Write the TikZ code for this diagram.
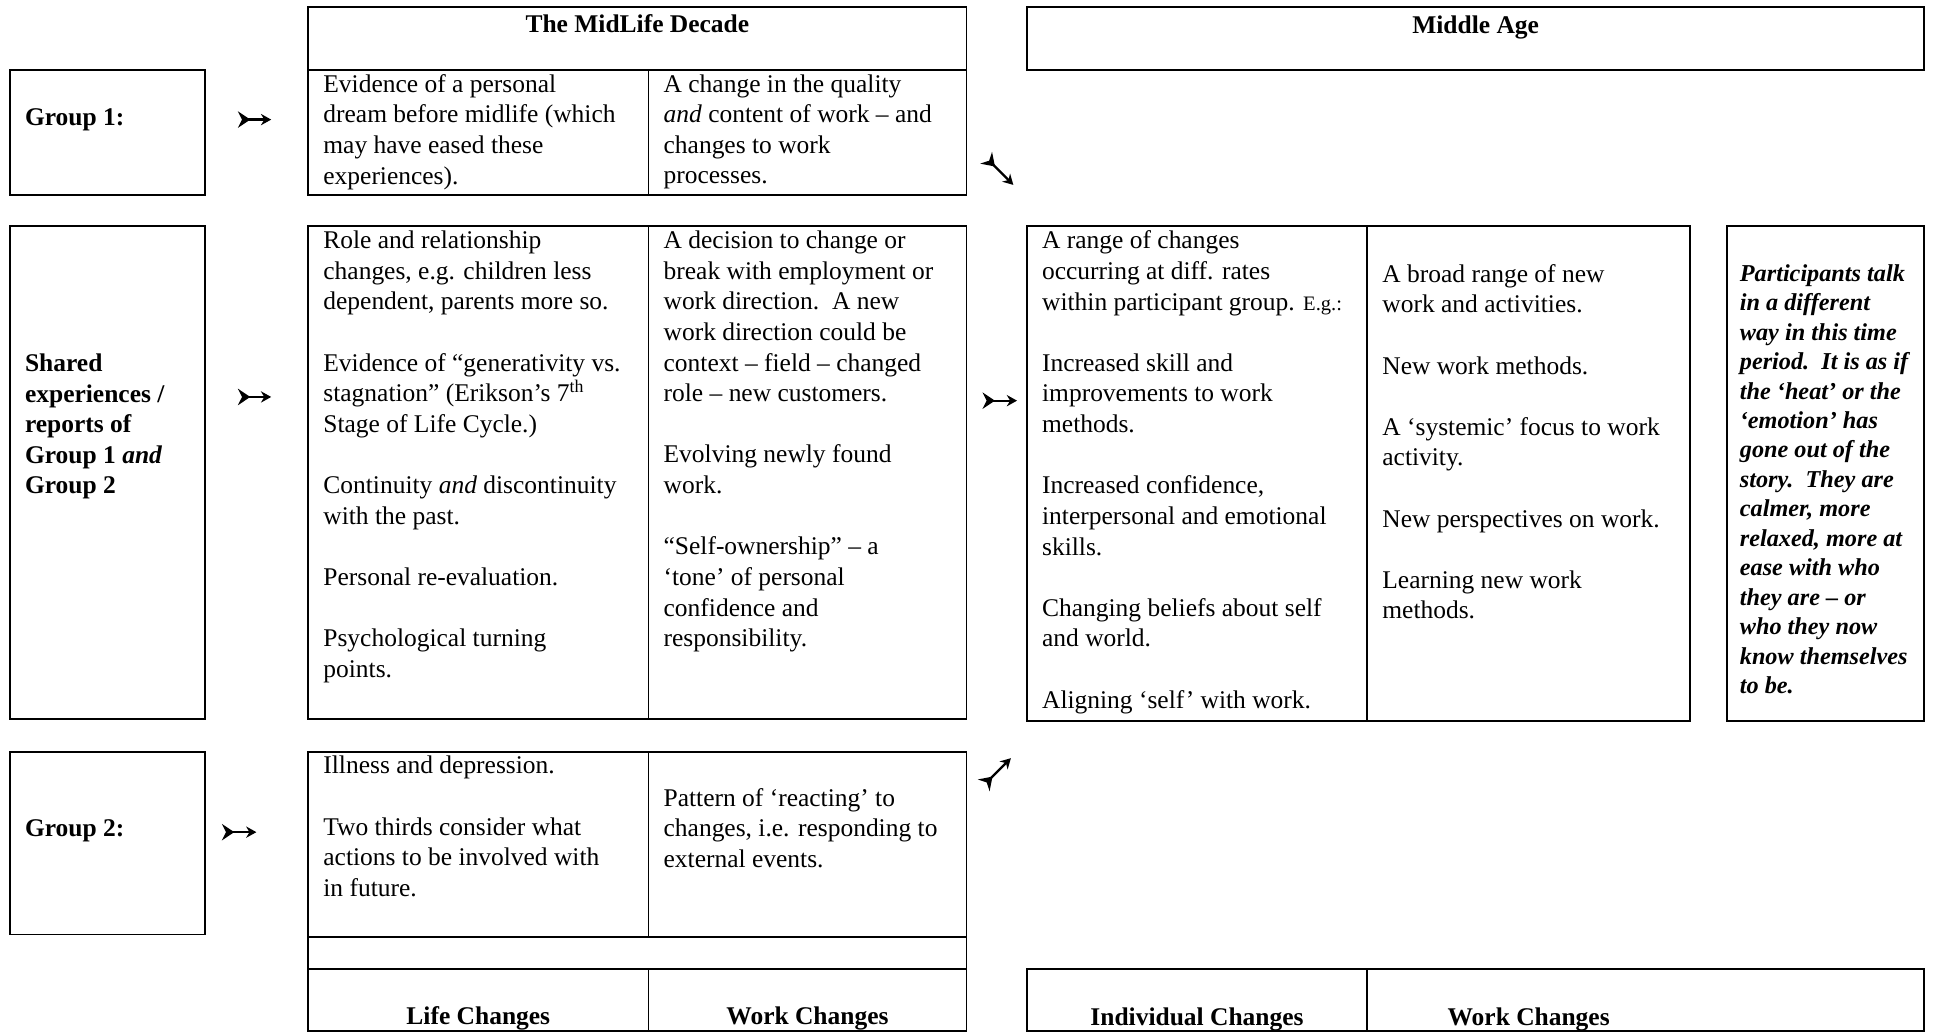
\documentclass[tikz,border=0pt]{standalone}
\usepackage{fontspec}
\setmainfont{Liberation Serif}
\usetikzlibrary{fit, arrows.meta}

\tikzset{
  cell/.style={draw, line width=0.9pt, inner sep=0pt},
  txt/.style={anchor=north west, inner sep=0pt, align=left, font=\fontsize{12.4}{14.9}\selectfont},
  hd/.style={inner sep=0pt, font=\fontsize{12.4}{14.9}\selectfont\bfseries},
  talk/.style={anchor=north west, inner sep=0pt, align=left, font=\fontsize{11.8}{14.35}\selectfont\bfseries\itshape},
  dart/.style={line width=1.1pt, {Stealth[reversed,length=6pt,width=8pt,inset=2pt]}-{Stealth[length=5pt,width=5.5pt]}}
}
\newcommand{\gap}{\\[14.9pt]}

\begin{document}
\begin{tikzpicture}[x=0.6pt, y=-0.6pt]
	\useasboundingbox (0,0) rectangle (1568,838);

	% groups on the left
	\node[cell, fit={(8,57) (166,158)}] (g1) {};
	\node[cell, fit={(8,183) (166,583)}] (gs) {};
	\node[cell, fit={(8,610) (166,758)}] (g2) {};
	\node[hd, anchor=west] (g1t) at (20,97) {Group 1:};
	\node[hd, anchor=west, align=left] (gst) at (20,346) {Shared\\experiences /\\reports of\\Group 1 \textit{and}\\Group 2};
	\node[hd, anchor=west] (g2t) at (20,674) {Group 2:};

	% the midlife decade
	\node[cell, fit={(250,6) (784,57)}] (mdh) {};
	\node[hd] (mdt) at (517,19) {The MidLife Decade};
	\node[cell, fit={(250,57) (526,158)}] (r1l) {};
	\node[cell, fit={(526,57) (784,158)}] (r1w) {};
	\node[cell, fit={(250,183) (526,583)}] (r2l) {};
	\node[cell, fit={(526,183) (784,583)}] (r2w) {};
	\node[cell, fit={(250,610) (526,760)}] (r3l) {};
	\node[cell, fit={(526,610) (784,760)}] (r3w) {};
	\node[cell, fit={(250,760) (784,786)}] (r3g) {};
	\node[cell, fit={(250,786) (526,836)}] (lch) {};
	\node[cell, fit={(526,786) (784,836)}] (wch) {};

	\node[txt] (r1lt) at (262,60) {Evidence of a personal\\dream before midlife (which\\may have eased these\\experiences).};
	\node[txt] (r1wt) at (538,60) {A change in the quality\\\textit{and} content of work – and\\changes to work\\processes.};
	\node[txt] (r2lt) at (262,187) {Role and relationship\\changes, e.g. children less\\dependent, parents more so.\gap
		Evidence of “generativity vs.\\stagnation” (Erikson’s 7\textsuperscript{th}\\Stage of Life Cycle.)\gap
		Continuity \textit{and} discontinuity\\with the past.\gap
		Personal re-evaluation.\gap
		Psychological turning\\points.};
	\node[txt] (r2wt) at (538,187) {A decision to change or\\break with employment or\\work direction.\ \ A new\\work direction could be\\context – field – changed\\role – new customers.\gap
		Evolving newly found\\work.\gap
		“Self-ownership” – a\\‘tone’ of personal\\confidence and\\responsibility.};
	\node[txt] (r3lt) at (262,613) {Illness and depression.\gap Two thirds consider what\\actions to be involved with\\in future.};
	\node[txt] (r3wt) at (538,639) {Pattern of ‘reacting’ to\\changes, i.e. responding to\\external events.};
	\node[hd, anchor=base] (lcht) at (388,831) {Life Changes};
	\node[hd, anchor=base] (wcht) at (655,831) {Work Changes};

	% middle age
	\node[cell, fit={(833,6) (1561,57)}] (mah) {};
	\node[hd] (mat) at (1197,22) {Middle Age};
	\node[cell, fit={(833,183) (1109,585)}] (mai) {};
	\node[cell, fit={(1109,183) (1371,585)}] (maw) {};
	\node[cell, fit={(1401,183) (1561,585)}] (mak) {};
	\node[cell, fit={(833,786) (1109,836)}] (ich) {};
	\node[cell, fit={(1109,786) (1561,836)}] (wch2) {};

	\node[txt] (mait) at (845,187) {A range of changes\\occurring at diff. rates\\within participant group. {\fontsize{10}{14.9}\selectfont E.g.:}\gap
		Increased skill and\\improvements to work\\methods.\gap
		Increased confidence,\\interpersonal and emotional\\skills.\gap
		Changing beliefs about self\\and world.\gap
		Aligning ‘self’ with work.};
	\node[txt] (mawt) at (1121,214) {A broad range of new\\work and activities.\gap
		New work methods.\gap
		A ‘systemic’ focus to work\\activity.\gap
		New perspectives on work.\gap
		Learning new work\\methods.};
	\node[talk] (makt) at (1411,214) {Participants talk\\in a different\\way in this time\\period.\ \ It is as if\\the ‘heat’ or the\\‘emotion’ has\\gone out of the\\story.\ \ They are\\calmer, more\\relaxed, more at\\ease with who\\they are – or\\who they now\\know themselves\\to be.};
	\node[hd, anchor=base] (icht) at (971,832) {Individual Changes};
	\node[hd, anchor=base] (wch2t) at (1240,832) {Work Changes};

	% arrows
	\coordinate (a1s) at (193,97);  \coordinate (a1e) at (220,97);
	\coordinate (a2s) at (193,322); \coordinate (a2e) at (220,322);
	\coordinate (a3s) at (180,675); \coordinate (a3e) at (208,675);
	\coordinate (a4s) at (797,325); \coordinate (a4e) at (825,325);
	\coordinate (a5s) at (800,128); \coordinate (a5e) at (822,150);
	\coordinate (a6s) at (798,637); \coordinate (a6e) at (820,615);
	\draw[dart] (a1s) -- (a1e);
	\draw[dart] (a2s) -- (a2e);
	\draw[dart] (a3s) -- (a3e);
	\draw[dart] (a4s) -- (a4e);
	\draw[dart] (a5s) -- (a5e);
	\draw[dart] (a6s) -- (a6e);
\end{tikzpicture}
\end{document}
